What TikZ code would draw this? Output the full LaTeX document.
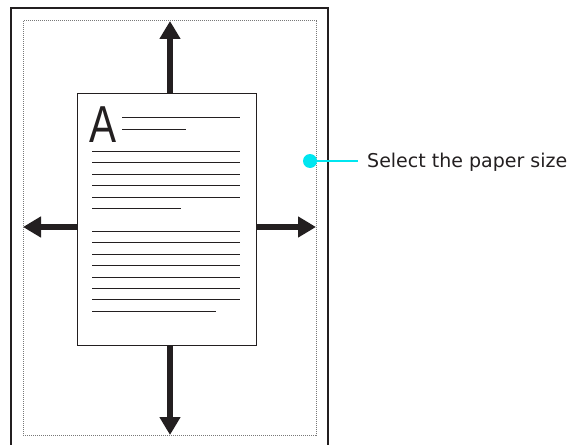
\documentclass[tikz,border=0pt]{standalone}
\usepackage{fontspec}
\setmainfont{DejaVu Sans}
\newfontfamily\letterfont{Liberation Sans}
\usetikzlibrary{arrows.meta}
\definecolor{markcyan}{RGB}{0,230,240}
\definecolor{inkdark}{RGB}{35,31,32}
\definecolor{dotgray}{RGB}{120,120,120}
\tikzset{
  bigarrow/.style={draw=inkdark, line width=6.5pt, -{Triangle[width=20pt,length=18pt]}},
  textline/.style={draw=inkdark, line width=1pt},
  pagebox/.style={draw=inkdark, fill=white, line width=1pt, minimum width=179pt, minimum height=252pt, inner sep=0pt},
  areabox/.style={draw=dotgray, dash pattern=on 1pt off 1pt, line width=1pt, minimum width=293pt, minimum height=414pt, inner sep=0pt},
  dotmark/.style={circle, fill=markcyan, minimum size=14pt, inner sep=0pt},
  callout/.style={anchor=base west, inner sep=0pt, font=\fontsize{19}{22}\selectfont, text=inkdark}
}
\begin{document}
\begin{tikzpicture}[x=1pt,y=-1pt]
\useasboundingbox (0,0) rectangle (575,444);
% outer sheet
\draw[inkdark, line width=2pt] (11,460) |- (328,8) -- (328,460);
% printable area
\node[areabox] (area) at (169.5,228) {};
% page
\node[pagebox] (page) at (166.5,219) {};
% arrow tips
\coordinate (tipT) at (170,21);
\coordinate (tipB) at (170,435);
\coordinate (tipL) at (23,227);
\coordinate (tipR) at (316,227);
\draw[bigarrow] (page.north -| tipT) -- (tipT);
\draw[bigarrow] (page.south -| tipB) -- (tipB);
\draw[bigarrow] (page.west |- tipL) -- (tipL);
\draw[bigarrow] (page.east |- tipR) -- (tipR);
% letter A
\node[anchor=base west, inner sep=0pt, xscale=0.78, font=\letterfont\fontsize{52}{53}\selectfont, text=inkdark] (letterA) at (89,142) {A};
% text lines
\draw[textline] (122,117) -- (240,117);
\draw[textline] (122,129) -- (186,129);
\foreach \y in {151,162,174,185,197} {\draw[textline] (92,\y) -- (240,\y);}
\draw[textline] (92,208) -- (181,208);
\foreach \y in {231,242,254,265,277,288,299} {\draw[textline] (92,\y) -- (240,\y);}
\draw[textline] (92,311) -- (216,311);
% callout
\node[dotmark] (dot) at (310,161) {};
\node[callout] (label) at (367,167) {Select the paper size};
\draw[markcyan, line width=1.3pt] (dot.center) -- (358,161);
\end{tikzpicture}
\end{document}
